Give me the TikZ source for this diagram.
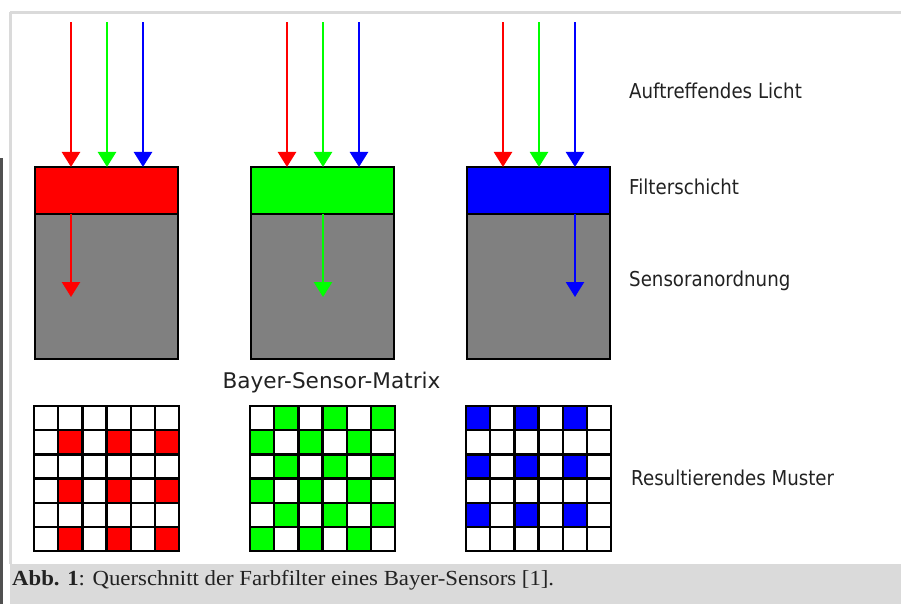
\documentclass[tikz,border=0pt]{standalone}
\usepackage{fontspec}
\setmainfont{Liberation Serif}
\newfontfamily\capfont[FakeStretch=1.06]{Liberation Serif}
\newfontfamily\labelfont[FakeStretch=0.888]{DejaVu Sans}
\newfontfamily\titlefont{DejaVu Sans}
\usetikzlibrary{arrows.meta}
\definecolor{pxred}{RGB}{255,0,0}
\definecolor{pxgreen}{RGB}{0,255,0}
\definecolor{pxblue}{RGB}{0,0,255}
\definecolor{sensorgray}{RGB}{128,128,128}
\definecolor{framegray}{RGB}{218,218,218}
\definecolor{bargray}{RGB}{80,80,80}
\definecolor{txt}{RGB}{34,34,34}
\begin{document}
\begin{tikzpicture}[x=1pt,y=-1pt,
  lightarrow/.style={line width=2.4pt,-{Triangle[width=18pt,length=15pt]}},
  filterbox/.style={draw=black,line width=2.5pt,minimum width=143pt,minimum height=47pt,inner sep=0pt,outer sep=0pt},
  sensorbox/.style={draw=black,line width=2.5pt,fill=sensorgray,minimum width=143pt,minimum height=145pt,inner sep=0pt,outer sep=0pt},
  lbl/.style={font=\labelfont\fontsize{20.5}{24}\selectfont,text=txt,anchor=base west,inner sep=0pt},
  gridline/.style={line width=2.5pt,draw=black,line cap=rect}
]
\useasboundingbox (0,0) rectangle (901,604);
% frame
\fill[white] (0,0) rectangle (901,604);
\fill[framegray] (10,564) rectangle (901,604);
\draw[framegray,line width=3pt] (10,12.5) -- (901,12.5);
\draw[framegray,line width=3pt] (10.5,12.5) -- (10.5,564);
\fill[bargray] (0,158) rectangle (2.5,604);

% columns
\foreach \i/\xo/\fc in {1/35/pxred,2/251/pxgreen,3/467/pxblue}{
  \node[sensorbox] (g\i) at (\xo+71.5,286.5) {};
  \node[filterbox,fill=\fc] (f\i) at (\xo+71.5,190.5) {};
  \coordinate (r\i) at (\xo+36,22.5);
  \coordinate (gr\i) at (\xo+72,22.5);
  \coordinate (b\i) at (\xo+108,22.5);
  \draw[lightarrow,pxred] (r\i) -- (r\i |- f\i.north);
  \draw[lightarrow,pxgreen] (gr\i) -- (gr\i |- f\i.north);
  \draw[lightarrow,pxblue] (b\i) -- (b\i |- f\i.north);
}
\coordinate (e1) at (35+36,297);
\coordinate (e2) at (251+72,297);
\coordinate (e3) at (467+108,297);
\draw[lightarrow,pxred] (e1 |- f1.south) -- (e1);
\draw[lightarrow,pxgreen] (e2 |- f2.south) -- (e2);
\draw[lightarrow,pxblue] (e3 |- f3.south) -- (e3);

% grids
\def\cs{24.2}
\foreach \xo in {34,250,466}{
  \fill[white] (\xo,406) rectangle ++(6*\cs,6*\cs);
}
\foreach \r in {0,...,5}{
  \foreach \c in {0,...,5}{
    \pgfmathtruncatemacro\s{mod(\r+\c,2)}
    \pgfmathtruncatemacro\ro{mod(\r,2)}
    \pgfmathtruncatemacro\co{mod(\c,2)}
    \ifnum\s=1 \fill[pxgreen] (250+\c*\cs,406+\r*\cs) rectangle ++(\cs,\cs);\fi
    \ifnum\ro=1 \ifnum\co=1 \fill[pxred] (34+\c*\cs,406+\r*\cs) rectangle ++(\cs,\cs);\fi\fi
    \ifnum\ro=0 \ifnum\co=0 \fill[pxblue] (466+\c*\cs,406+\r*\cs) rectangle ++(\cs,\cs);\fi\fi
  }
}
\foreach \xo in {34,250,466}{
  \foreach \k in {0,...,6}{
    \draw[gridline] (\xo+\k*\cs,406) -- (\xo+\k*\cs,406+6*\cs);
    \draw[gridline] (\xo,406+\k*\cs) -- (\xo+6*\cs,406+\k*\cs);
  }
}

% labels
\node[lbl] (t1) at (629,99) {Auftreffendes Licht};
\node[lbl] (t2) at (629,194) {Filterschicht};
\node[lbl] (t3) at (629,286) {Sensoranordnung};
\node[lbl] (t4) at (631,485) {Resultierendes Muster};
\node[font=\titlefont\fontsize{21.6}{25}\selectfont,text=txt,anchor=base,inner sep=0pt] (bsm) at (331.5,388.5) {Bayer-Sensor-Matrix};
\node[font=\capfont\fontsize{21.5}{25}\selectfont,text=txt,anchor=base west,inner sep=0pt] (cap) at (12,585) {\textbf{Abb. 1}: Querschnitt der Farbfilter eines Bayer-Sensors [1].};
\end{tikzpicture}
\end{document}
